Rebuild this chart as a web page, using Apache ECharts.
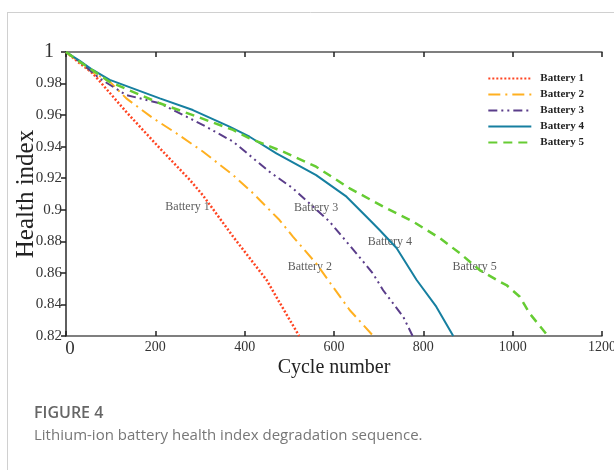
<!DOCTYPE html>
<html>
<head>
<meta charset="utf-8">
<script src="https://cdn.jsdelivr.net/npm/echarts@6/dist/echarts.min.js"></script>
<style>
html,body{margin:0;padding:0;background:#fff;}
#chart{width:614px;height:470px;}
</style>
</head>
<body>
<div id="chart"></div>
<script>
// ---- data (cycle number, health index) ----
const battery1 = [[0,1],[30,0.993],[60,0.9865],[135,0.962],[210,0.939],[277,0.919],[307,0.909],[374,0.883],[449,0.8555],[493,0.834],[522,0.82]];
const battery2 = [[0,1],[30,0.9935],[60,0.987],[98,0.9812],[135,0.9706],[195,0.958],[247,0.9485],[307,0.9368],[374,0.922],[415,0.9115],[478,0.8935],[508,0.883],[560,0.866],[635,0.8365],[688,0.82]];
const battery3 = [[0,1],[30,0.994],[75,0.9833],[135,0.9727],[210,0.9675],[307,0.9537],[374,0.9432],[415,0.9336],[456,0.924],[508,0.9136],[590,0.8925],[650,0.8724],[687,0.8597],[710,0.849],[755,0.8322],[776,0.82]];
const battery4 = [[0,1],[30,0.9945],[60,0.9886],[98,0.9823],[210,0.9706],[284,0.9632],[366,0.9527],[411,0.9463],[471,0.9358],[560,0.922],[628,0.9083],[680,0.8935],[702,0.8872],[740,0.8758],[785,0.8555],[829,0.8386],[867,0.82]];
const battery5 = [[0,1],[30,0.994],[98,0.981],[210,0.9675],[284,0.96],[374,0.9506],[411,0.9453],[486,0.9368],[560,0.9273],[635,0.9136],[710,0.902],[777,0.8925],[837,0.882],[882,0.8724],[926,0.8618],[971,0.8544],[986,0.8523],[1016,0.8449],[1038,0.8343],[1079,0.82]];
const seriesNames = ['Battery 1','Battery 2','Battery 3','Battery 4','Battery 5'];
const curveLabels = [[272,0.9018,'Battery 1'],[546,0.8637,'Battery 2'],[560,0.901,'Battery 3'],[725,0.8798,'Battery 4'],[915,0.8639,'Battery 5']];
const xTicks = {min:0, max:1200, interval:200};
const yTicks = {min:0.82, max:1, interval:0.02};
const captionTitle = 'FIGURE 4';
const captionText = 'Lithium-ion battery health index degradation sequence.';

const serif = '"Liberation Serif","DejaVu Serif",serif';
const axisColor = '#555';
const colors = ['#ff4422','#ffb020','#5a3d8a','#167fa0','#66cc33'];
const lineTypes = [[2,2],[12,5,2,5],[9,4,2,4,2,4],'solid',[9,6]];
const widths = [2.5,2,2,2,2.5];
const datasets = [battery1,battery2,battery3,battery4,battery5];

const series = datasets.map((d,i)=>({
  name: seriesNames[i], type:'line', data:d, symbol:'none', smooth:false,
  lineStyle:{color:colors[i], width:widths[i], type:lineTypes[i]},
  itemStyle:{color:colors[i]}, z: 3, animation:false
}));
series.push({
  name:'labels', type:'scatter', data:curveLabels, symbolSize:0, silent:true, animation:false,
  label:{show:true, position:'inside', formatter:p=>p.data[2], fontFamily:serif, fontSize:12, color:'#333'}
});

const chart = echarts.init(document.getElementById('chart'), null, {renderer:'canvas'});
chart.setOption({
  animation:false,
  backgroundColor:'#fff',
  grid:{left:66, right:12, top:52, bottom:134, containLabel:false, outerBoundsMode:'none'},
  legend:{
    data: seriesNames, orient:'vertical', right:25, top:68, itemWidth:43, itemHeight:10, itemGap:5,
    textStyle:{fontFamily:serif, fontWeight:'bold', fontSize:11, color:'#222', padding:[0,0,0,4]},
    itemStyle:{opacity:0}
  },
  xAxis:[{
    type:'value', min:xTicks.min, max:xTicks.max, interval:xTicks.interval,
    name:'Cycle number', nameLocation:'middle', nameGap:22, nameMoveOverlap:false,
    nameTextStyle:{fontFamily:serif, fontSize:20, color:'#222'},
    axisLine:{show:true, lineStyle:{color:axisColor, width:1.5}},
    axisTick:{show:true, inside:true, length:5, lineStyle:{color:'#222', width:1.5}},
    axisLabel:{fontFamily:serif, fontSize:14, color:'#333', margin:4,
      formatter:v=> v===0 ? '{big|0}' : String(v),
      rich:{big:{fontFamily:serif, fontSize:19, color:'#333', padding:[0,0,0,8]}}},
    splitLine:{show:false}
  },{
    type:'value', position:'top', min:xTicks.min, max:xTicks.max, interval:xTicks.interval,
    axisLine:{show:true, lineStyle:{color:axisColor, width:1.5}},
    axisTick:{show:true, inside:true, length:5, lineStyle:{color:'#222', width:1.5}},
    axisLabel:{show:false}, splitLine:{show:false}
  }],
  yAxis:[{
    type:'value', min:yTicks.min, max:yTicks.max, interval:yTicks.interval,
    name:'Health index', nameLocation:'middle', nameGap:27, nameMoveOverlap:false,
    nameTextStyle:{fontFamily:serif, fontSize:25, color:'#222'},
    axisLine:{show:true, lineStyle:{color:axisColor, width:1.5}},
    axisTick:{show:true, inside:false, length:4, lineStyle:{color:'#222', width:1.5}},
    axisLabel:{fontFamily:serif, fontSize:15, color:'#333', margin:4,
      formatter:v=> Math.abs(v-1)<1e-9 ? '{big|1}' : String(+v.toFixed(2)),
      rich:{big:{fontFamily:serif, fontSize:20, color:'#333', padding:[0,8,0,0]}}},
    splitLine:{show:false}
  },{
    type:'value', position:'right', min:yTicks.min, max:yTicks.max, interval:yTicks.interval,
    axisLine:{show:true, lineStyle:{color:axisColor, width:1.5}},
    axisTick:{show:true, inside:true, length:5, lineStyle:{color:'#222', width:1.5}},
    axisLabel:{show:false}, splitLine:{show:false}
  }],
  series: series,
  graphic:[
    {type:'line', shape:{x1:7, y1:12.5, x2:614, y2:12.5}, style:{stroke:'#d0d0d0', lineWidth:1}},
    {type:'line', shape:{x1:7.5, y1:12, x2:7.5, y2:470}, style:{stroke:'#d0d0d0', lineWidth:1}},
    {type:'text', left:34, top:405, style:{text:captionTitle, font:'600 16px "Open Sans","Noto Sans",sans-serif', fill:'#666'}},
    {type:'text', left:34, top:428, style:{text:captionText, font:'15px "Open Sans","Noto Sans",sans-serif', fill:'#777'}}
  ]
});
</script>
</body>
</html>
